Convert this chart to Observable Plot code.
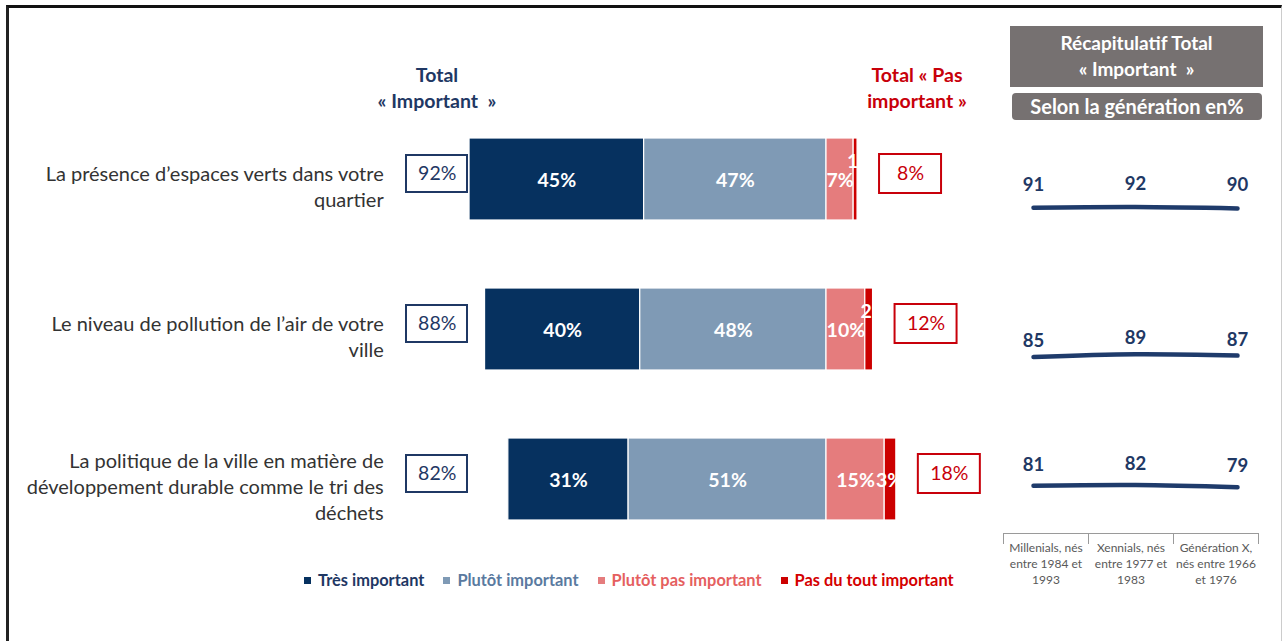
<!DOCTYPE html>
<html><head><meta charset="utf-8">
<script src="https://cdn.jsdelivr.net/npm/d3@7"></script>
<script src="https://cdn.jsdelivr.net/npm/@observablehq/plot@0.6"></script>
<style>
body{margin:0;background:#fff;font-family:Lato,"Open Sans",sans-serif;}
#root{position:relative;width:1282px;height:641px;overflow:hidden;background:#fff;}
.abs{position:absolute;}
#frame{left:6px;top:5px;width:1272px;height:700px;border-top:3px solid #111;border-left:3px solid #222;border-right:1px solid #ccc;}
.hdr{font-weight:bold;font-size:19.5px;line-height:26px;text-align:center;white-space:pre;}
.gbox{background:#767171;color:#fff;font-weight:bold;font-size:19px;text-align:center;white-space:pre;}
#legend{left:304px;top:570px;display:flex;gap:19px;font-weight:bold;font-size:16.4px;}
#legend span.sw{display:inline-block;width:7px;height:7px;margin-right:7px;vertical-align:middle;position:relative;top:-1px;}
#genaxis{left:1003px;top:533px;width:256px;display:flex;}
#genaxis div{flex:1;border-top:1.5px solid #9a9a9a;border-left:1.5px solid #9a9a9a;padding-top:6px;font-size:12px;line-height:16px;color:#595959;text-align:center;white-space:pre;height:4px;overflow:visible;}
#genaxis div:last-child{border-right:1.5px solid #9a9a9a;}
</style></head><body><div id="root"></div>
<script>
// ---- data ----
const items = [
  "La présence d’espaces verts dans votre\nquartier",
  "Le niveau de pollution de l’air de votre\nville",
  "La politique de la ville en matière de\ndéveloppement durable comme le tri des\ndéchets"
];
const categories = ["Très important", "Plutôt important", "Plutôt pas important", "Pas du tout important"];
const tresImportant = [45, 40, 31];
const plutotImportant = [47, 48, 51];
const plutotPas = [7, 10, 15];
const pasDuTout = [1, 2, 3];
const totalImportant = [92, 88, 82];
const totalPas = [8, 12, 18];
const generations = ["Millenials, nés\nentre 1984 et\n1993", "Xennials, nés\nentre 1977 et\n1983", "Génération X,\nnés entre 1966\net 1976"];
const genMillenials = [91, 85, 81];
const genXennials = [92, 89, 82];
const genGenX = [90, 87, 79];

// ---- style ----
const barColors = ["#06315f", "#7f9ab5", "#e57c7d", "#cc0000"];
const legendText = ["#1f3864", "#5a7aa0", "#e5605f", "#d40000"];
const navy = "#1f3864", red = "#c8000a";
const FONT = "Lato, 'Open Sans', sans-serif";

const root = document.getElementById("root");
function addDiv(cls, css, html) {
  const d = document.createElement("div");
  d.className = cls; Object.assign(d.style, css); d.innerHTML = html; root.appendChild(d); return d;
}
addDiv("abs", {}, "").id = "frame";

// ---- main diverging bars ----
const rows = items.map((item, i) => ({item, tres: tresImportant[i], plutot: plutotImportant[i], pp: plutotPas[i], pd: pasDuTout[i], ti: totalImportant[i], tp: totalPas[i]}));
const segs = [];
rows.forEach(r => {
  segs.push({item: r.item, cat: categories[0], x1: -(r.tres + r.plutot), x2: -r.plutot, v: r.tres});
  segs.push({item: r.item, cat: categories[1], x1: -r.plutot, x2: 0, v: r.plutot});
  segs.push({item: r.item, cat: categories[2], x1: 0, x2: r.pp, v: r.pp});
  segs.push({item: r.item, cat: categories[3], x1: r.pp, x2: r.pp + r.pd, v: r.pd});
});
const mid = d => (d.x1 + d.x2) / 2;
const main = Plot.plot({
  width: 1282, height: 641,
  marginLeft: 399.2, marginRight: 300.8, marginTop: 70, marginBottom: 53,
  x: {domain: [-110, 40], axis: null},
  y: {domain: items, padding: 0.4533, axis: null},
  color: {domain: categories, range: barColors},
  style: {fontFamily: FONT, background: "transparent", overflow: "visible"},
  marks: [
    Plot.barX(segs, {y: "item", x1: "x1", x2: "x2", fill: "cat", stroke: "white", strokeWidth: 1.2}),
    Plot.text(segs.filter(d => d.v >= 5), {y: "item", x: mid, text: d => d.v + "%", fill: "white", fontWeight: "bold", fontSize: 19.5, dy: 1}),
    Plot.text(segs.filter(d => d.v < 3), {y: "item", x: mid, text: d => d.v + "%", fill: "white", fontWeight: "bold", fontSize: 19.5, dy: -18, dx: 5}),
    Plot.text(segs.filter(d => d.v >= 3 && d.v < 5), {y: "item", x: mid, text: d => d.v + "%", fill: "white", fontWeight: "bold", fontSize: 19.5, dx: -1, dy: 1}),
    // category labels
    Plot.text(rows, {y: "item", frameAnchor: "left", text: "item", textAnchor: "end", dx: -16, dy: 6, fontSize: 20, lineHeight: 1.3, fill: "#333"}),
    // total important boxes
    Plot.barX(rows, {y: "item", x1: () => 0, x2: () => 0, fill: "white", stroke: navy, strokeWidth: 2, insetLeft: -420, insetRight: 359, insetTop: 17, insetBottom: 28}),
    Plot.text(rows, {y: "item", frameAnchor: "left", textAnchor: "middle", text: d => d.ti + "%", dx: 37.5, dy: -6, fill: navy, fontSize: 19.5}),
    // total pas important boxes
    Plot.barX(rows, {y: "item", x1: "tp", x2: "tp", fill: "white", stroke: red, strokeWidth: 2, insetLeft: 22, insetRight: -84, insetTop: 16, insetBottom: 27}),
    Plot.text(rows, {y: "item", x: "tp", text: d => d.tp + "%", dx: 53, dy: -6, fill: red, fontSize: 19.5})
  ]
});
main.classList.add("abs"); main.style.left = "0px"; main.style.top = "0px";
root.appendChild(main);

// headers
addDiv("abs hdr", {left: "347px", top: "62px", width: "180px", color: navy}, "Total\n« Important  »");
addDiv("abs hdr", {left: "827px", top: "62px", width: "180px", color: red}, "Total « Pas\nimportant »");
addDiv("abs gbox", {left: "1010px", top: "26px", width: "253px", height: "61px", lineHeight: "26px", paddingTop: "4px", boxSizing: "border-box"}, "Récapitulatif Total\n« Important  »");
addDiv("abs gbox", {left: "1012px", top: "93px", width: "250px", height: "27px", lineHeight: "27px", borderRadius: "4px", fontSize: "20px"}, "Selon la génération en%");

// legend
const leg = addDiv("abs", {}, "");
leg.id = "legend";
categories.forEach((c, i) => {
  const s = document.createElement("div");
  s.style.color = legendText[i];
  s.innerHTML = `<span class="sw" style="background:${barColors[i]}"></span>${c}`;
  leg.appendChild(s);
});

// right panel: generation lines
const genSeries = [genMillenials, genXennials, genGenX];
const panelTops = [170.7, 315.9, 441.5];
const labelDy = [-23, -16, -21];
items.forEach((item, i) => {
  const data = generations.map((g, j) => ({g, v: genSeries[j][i]}));
  const p = Plot.plot({
    width: 282, height: 80, marginLeft: 33, marginRight: 45, marginTop: 30, marginBottom: 15,
    x: {type: "point", domain: generations, padding: 0, axis: null},
    y: {domain: [50, 100], axis: null},
    style: {fontFamily: FONT, background: "transparent", overflow: "visible"},
    marks: [
      Plot.line(data, {x: "g", y: "v", stroke: "#1f3b6b", strokeWidth: 4.5, curve: "catmull-rom", strokeLinecap: "round"}),
      Plot.text(data, {x: "g", y: "v", text: "v", dy: labelDy[i], fill: navy, fontWeight: "bold", fontSize: 18.5})
    ]
  });
  p.classList.add("abs"); p.style.left = "1000px"; p.style.top = panelTops[i] + "px";
  root.appendChild(p);
});

// generation axis
const ga = addDiv("abs", {}, "");
ga.id = "genaxis";
generations.forEach(g => {
  const d = document.createElement("div");
  d.textContent = g;
  ga.appendChild(d);
});
</script>
</body></html>
